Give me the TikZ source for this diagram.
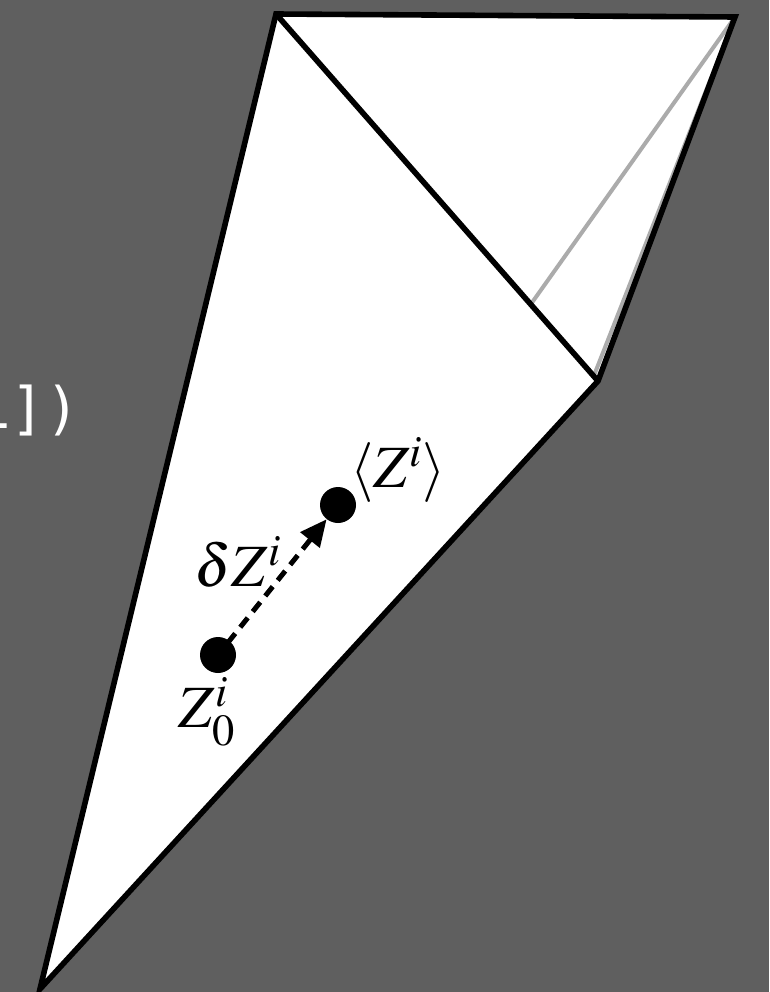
\documentclass[tikz,border=0pt]{standalone}
\usepackage{mathptmx}
\usepackage{fontspec}
\newfontfamily\monofont{DejaVu Sans Mono}
\usetikzlibrary{arrows.meta}
\definecolor{bg}{HTML}{5F5F5F}
\definecolor{edgegray}{HTML}{ABABAB}
\tikzset{
  edge/.style={black, line width=4.2pt, line join=miter},
  grayedge/.style={edgegray, line width=3pt},
  dotnode/.style={circle, fill=black, inner sep=0pt, minimum size=27pt},
  lbl/.style={font=\fontsize{45}{48}\selectfont, inner sep=0pt},
  shiftarrow/.style={black, line width=3.75pt, dash pattern=on 9pt off 6pt, -{Triangle[length=20pt,width=18pt]}, shorten <=-2pt, shorten >=0pt}
}
\begin{document}
\begin{tikzpicture}[x=0.75pt,y=-0.75pt]
\useasboundingbox (0,0) rectangle (769,992);
\fill[bg] (0,0) rectangle (769,992);
\coordinate (A) at (276,14);
\coordinate (B) at (735,17);
\coordinate (C) at (598,381);
\coordinate (D) at (40,989);
\coordinate (E) at (531,304);
\coordinate (F) at (593,378);
\fill[white] (A) -- (B) -- (C) -- (D) -- cycle;
\draw[grayedge] (B) -- (E);
\draw[grayedge] (B) -- (F);
\draw[edge] (A) -- (B) -- (C) -- (D) -- cycle;
\draw[edge] (A) -- (C);
\node[anchor=base east, inner sep=0pt, text=white, font=\monofont\fontsize{43}{46}\selectfont] (code) at (80,428) {1])};
\node[dotnode] (z0) at (218,655) {};
\node[dotnode] (zm) at (338,505) {};
\draw[shiftarrow] (z0) -- (zm);
\node[lbl] (lz0) at (207,712) {$Z_0^i$};
\node[lbl] (ldz) at (238,562) {$\delta Z^i$};
\node[lbl] (lzm) at (398,470) {$\langle Z^i\rangle$};
\end{tikzpicture}
\end{document}
